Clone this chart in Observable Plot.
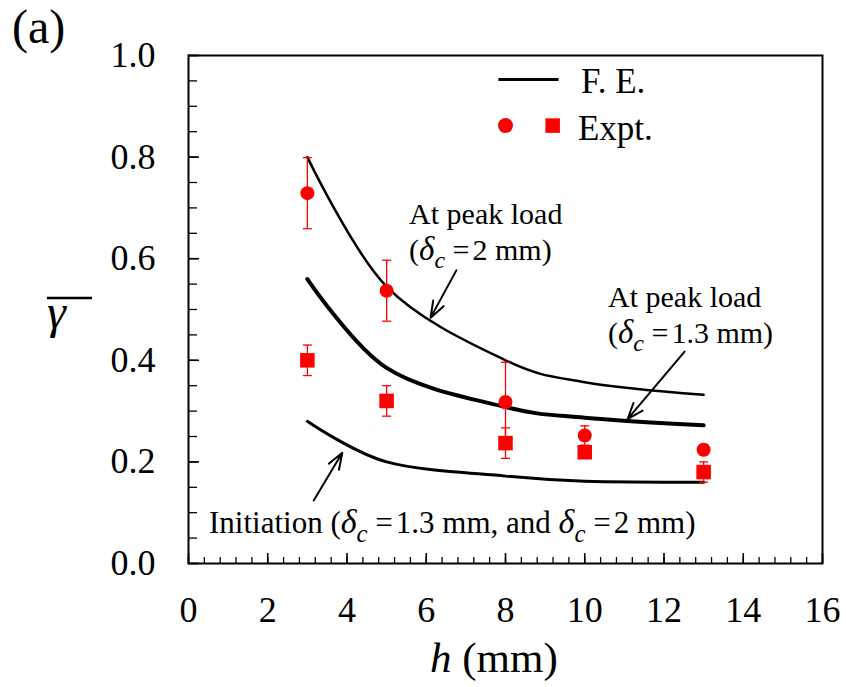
<!DOCTYPE html>
<html><head><meta charset="utf-8">
<script src="https://cdn.jsdelivr.net/npm/d3@7"></script>
<script src="https://cdn.jsdelivr.net/npm/@observablehq/plot@0.6"></script>
<style>
html,body{margin:0;padding:0;background:#fff;}
#chart svg{display:block;}
#chart svg, #chart svg text{font-family:"Liberation Serif","Tinos","Times New Roman","DejaVu Serif",serif !important;}
</style></head><body><div id="chart"></div>
<script>
// ---- data ----
const h = [3, 5, 8, 10, 13];
const fePeak2 = [0.80, 0.545, 0.40, 0.357, 0.332];     // F.E. at peak load, delta_c = 2 mm
const fePeak13 = [0.56, 0.385, 0.308, 0.287, 0.272];   // F.E. at peak load, delta_c = 1.3 mm
const feInit = [0.28, 0.20, 0.172, 0.162, 0.160];      // F.E. initiation
const exptCircle = [0.729, 0.537, 0.318, 0.252, 0.224];
const exptCircleErr = [0.07, 0.06, 0.078, 0.019, 0.01];
const exptSquare = [0.40, 0.32, 0.237, 0.219, 0.18];
const exptSquareErr = [0.03, 0.03, 0.03, 0.01, 0.02];
const xTicks = [0, 2, 4, 6, 8, 10, 12, 14, 16];
const yTicks = [0, 0.2, 0.4, 0.6, 0.8, 1.0];
const xMinor = d3.range(0, 16.001, 0.4);
const yMinor = d3.range(0, 1.0001, 0.05);
// arrows (data coordinates): tail -> tip
const arrowX1 = [6.76, 12.52, 3.16];
const arrowY1 = [0.577, 0.417, 0.124];
const arrowX2 = [6.11, 11.08, 3.88];
const arrowY2 = [0.484, 0.284, 0.218];

// ---- layout ----
const W = 846, H = 687, mL = 188, mR = 24, mT = 55, mB = 124;
const fw = W - mL - mR, fh = H - mT - mB;
const FONT = "Liberation Serif, Tinos, Times New Roman, DejaVu Serif, serif";
const smooth = d3.curveCatmullRom.alpha(0);

const rows = vals => h.map((x, i) => ({h: x, v: vals[i]}));
const errRows = (vals, errs) => h.map((x, i) => ({h: x, lo: vals[i] - errs[i], hi: vals[i] + errs[i]}));
const capSymbol = {draw(ctx, size) {const r = Math.sqrt(size / Math.PI); ctx.moveTo(-r, 0); ctx.lineTo(r, 0);}};
const caps = (vals, errs) => errRows(vals, errs).flatMap(d => [{h: d.h, v: d.lo}, {h: d.h, v: d.hi}]);
const arrows = arrowX1.map((x, i) => ({x1: x, y1: arrowY1[i], x2: arrowX2[i], y2: arrowY2[i]}));

const plot = Plot.plot({
  width: W, height: H, marginLeft: mL, marginRight: mR, marginTop: mT, marginBottom: mB,
  style: {fontFamily: FONT, background: "#fff", color: "#000"},
  x: {domain: [0, 16]},
  y: {domain: [0, 1]},
  marks: [
    Plot.tickX(xMinor, {x: d => d, insetTop: fh - 6, stroke: "#000", strokeWidth: 1.3}),
    Plot.tickX(xTicks, {x: d => d, insetTop: fh - 10, stroke: "#000", strokeWidth: 1.6}),
    Plot.tickY(yMinor, {y: d => d, insetRight: fw - 9, stroke: "#000", strokeWidth: 1.3}),
    Plot.tickY(yTicks, {y: d => d, insetRight: fw - 11, stroke: "#000", strokeWidth: 1.6}),
    Plot.axisX({ticks: xTicks, tickSize: 0, tickPadding: 33, fontSize: 36, label: null, tickFormat: d => String(d)}),
    Plot.axisY({ticks: yTicks, tickSize: 0, tickPadding: 33, fontSize: 36, label: null, tickFormat: d3.format(".1f")}),
    Plot.frame({stroke: "#000", strokeWidth: 2}),
    Plot.line(rows(fePeak2), {x: "h", y: "v", curve: smooth, stroke: "#000", strokeWidth: 2.5}),
    Plot.line(rows(fePeak13), {x: "h", y: "v", curve: smooth, stroke: "#000", strokeWidth: 4}),
    Plot.line(rows(feInit), {x: "h", y: "v", curve: smooth, stroke: "#000", strokeWidth: 3}),
    Plot.ruleX(errRows(exptCircle, exptCircleErr), {x: "h", y1: "lo", y2: "hi", stroke: "red", strokeWidth: 1.3}),
    Plot.ruleX(errRows(exptSquare, exptSquareErr), {x: "h", y1: "lo", y2: "hi", stroke: "red", strokeWidth: 1.3}),
    Plot.dot(caps(exptCircle, exptCircleErr), {x: "h", y: "v", symbol: capSymbol, r: 4.5, stroke: "red", strokeWidth: 1.3, fill: "none"}),
    Plot.dot(caps(exptSquare, exptSquareErr), {x: "h", y: "v", symbol: capSymbol, r: 4.5, stroke: "red", strokeWidth: 1.3, fill: "none"}),
    Plot.dot(rows(exptCircle), {x: "h", y: "v", symbol: "circle", r: 7, fill: "red", stroke: "none"}),
    Plot.dot(rows(exptSquare), {x: "h", y: "v", symbol: "square", r: 8.2, fill: "red", stroke: "none"}),
    Plot.arrow(arrows, {x1: "x1", y1: "y1", x2: "x2", y2: "y2", stroke: "#000", strokeWidth: 2, headLength: 13, headAngle: 40}),
    // legend
    Plot.link([{a: 7.82, b: 9.34, y: 0.953}], {x1: "a", x2: "b", y1: "y", y2: "y", stroke: "#000", strokeWidth: 3}),
    Plot.dot([{x: 8.0, y: 0.862}], {x: "x", y: "y", symbol: "circle", r: 7.5, fill: "red", stroke: "none"}),
    Plot.dot([{x: 9.19, y: 0.862}], {x: "x", y: "y", symbol: "square", r: 8.2, fill: "red", stroke: "none"})
  ]
});
document.getElementById("chart").appendChild(plot);

const svg = d3.select(plot);
const sx = plot.scale("x");

function rich(x, y, parts, size, anchor = "start") {
  const t = svg.append("text").attr("x", x).attr("y", y)
    .attr("font-family", FONT).attr("font-size", size).attr("fill", "#000")
    .attr("text-anchor", anchor);
  let shift = 0;
  for (const p of parts) {
    const ts = t.append("tspan").text(p.t);
    if (p.i) ts.attr("font-style", "italic");
    const target = p.sub ? size * 0.28 : 0;
    if (target !== shift) { ts.attr("dy", target - shift); shift = target; }
    if (p.sub) ts.attr("font-size", size * 0.8);
    else if (p.s) ts.attr("font-size", size * p.s);
    if (p.dx) ts.attr("dx", p.dx);
  }
  return t;
}
const dc = [{t: "δ", i: 1, s: 1.1}, {t: "c", i: 1, sub: 1}];

// annotations
const aSize = 30;
rich(sx.apply(5.58), 224, [{t: "At peak load"}], aSize);
rich(sx.apply(5.58), 260, [{t: "("}, ...dc, {t: " ="}, {t: "2 mm)", dx: 3}], aSize);
rich(sx.apply(10.6), 307, [{t: "At peak load"}], aSize);
rich(sx.apply(10.6), 343, [{t: "("}, ...dc, {t: " ="}, {t: "1.3 mm)", dx: 3}], aSize);
rich(sx.apply(0.53), 533, [{t: "Initiation ("}, ...dc, {t: " ="}, {t: "1.3 mm, and ", dx: 3}, ...dc, {t: " ="}, {t: "2 mm)", dx: 3}], 31);

// legend text
rich(sx.apply(9.92), 93, [{t: "F. E."}], 35);
rich(sx.apply(9.84), 140, [{t: "Expt."}], 35);

// axis titles
rich(430, 672, [{t: "h", i: 1}, {t: " (mm)"}], 43);
rich(47, 328, [{t: "γ", i: 1}], 48);
svg.append("line").attr("x1", 47).attr("x2", 92).attr("y1", 298).attr("y2", 298).attr("stroke", "#000").attr("stroke-width", 2.5);
rich(12, 43, [{t: "(a)"}], 48);
</script></body></html>
